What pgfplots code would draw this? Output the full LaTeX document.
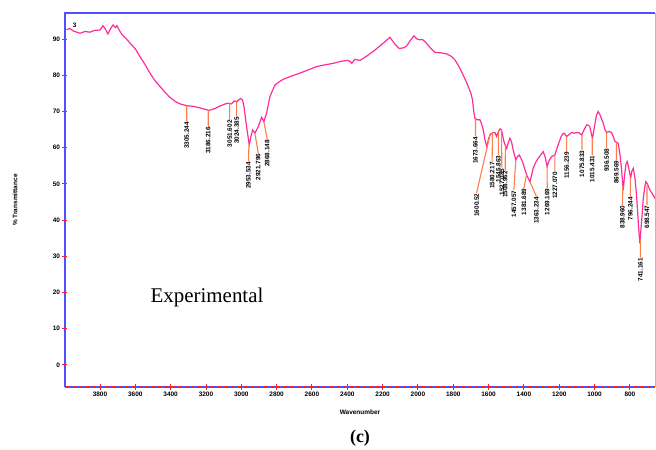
\documentclass[border=0pt]{standalone}
\usepackage{fontspec}
\setmainfont{Liberation Serif}
\newfontfamily\arial{Liberation Sans}
\usepackage{pgfplots}
\pgfplotsset{compat=1.18}
\definecolor{curve}{RGB}{255,45,155}
\definecolor{lead}{RGB}{255,125,75}
\definecolor{axblue}{RGB}{80,80,255}
\definecolor{ticred}{RGB}{255,30,30}
\newcommand{\pk}{\arial\bfseries\fontsize{6.4}{6.4}\selectfont}
\begin{document}
\begin{tikzpicture}
\draw[axblue, line width=2.3bp] (0,-0.5bp) -- (0,375bp);
\draw[axblue, line width=2bp] (0,374bp) -- (590bp,374bp);
\draw[axblue!45, line width=1bp] (590bp,0) -- (590bp,374bp);
\draw[axblue, line width=1.6bp] (0,0) -- (590bp,0);
\draw[ticred, line width=1.1bp, dash pattern=on 3bp off 3.6bp] (1bp,0) -- (590bp,0);
\begin{axis}[
 scale only axis, width=590bp, height=374bp,
 x dir=reverse, xmin=658, xmax=3998, ymin=-6.1, ymax=97.2,
 axis line style={draw=none},
 xtick={800,1000,...,3800}, ytick={0,10,...,90},
 xtick pos=bottom, ytick pos=left,
 tick align=center, major tick length=5bp,
 tick style={ticred, line width=0.9bp},
 ticklabel style={font=\arial\bfseries\fontsize{6.5}{7}\selectfont},
 /pgf/number format/assume math mode=true,
 /pgf/number format/set thousands separator={},
 yticklabel style={xshift=1bp},
 xticklabel style={yshift=1bp},
]
\addplot[curve, line width=1.2bp, no marks] table {
x y
3990 92.6
3970 92.9
3950 92.2
3913 91.6
3885 92.1
3857 91.9
3830 92.4
3800 92.5
3783 93.7
3770 92.8
3755 91.4
3740 92.9
3726 93.9
3712 93.2
3704 93.7
3690 92.4
3675 91.2
3655 90.3
3630 88.9
3600 87.3
3574 85.2
3545 83.0
3517 80.6
3490 78.6
3460 76.9
3430 75.2
3404 73.9
3375 72.8
3347 72.1
3309 71.6
3270 71.4
3234 71.0
3183 70.3
3150 70.8
3121 71.5
3090 72.1
3074 72.3
3055 72.1
3040 72.9
3026 72.7
3004 73.6
2993 73.2
2985 71.4
2970 65.8
2955 60.8
2945 63.2
2936 64.9
2923 64.0
2904 65.8
2885 68.4
2872 67.2
2857 69.5
2838 74.1
2810 77.3
2785 78.2
2762 78.9
2715 79.8
2668 80.6
2620 81.5
2573 82.4
2525 82.9
2479 83.3
2442 83.8
2400 84.1
2385 83.9
2375 83.3
2357 84.4
2328 84.1
2290 85.3
2253 86.6
2205 88.5
2159 90.5
2130 88.6
2106 87.4
2080 87.6
2064 88.1
2040 89.8
2023 90.9
2005 90.0
1989 89.8
1975 89.9
1960 89.3
1930 87.6
1904 86.3
1870 86.2
1838 85.9
1810 85.2
1791 84.3
1770 82.6
1753 81.0
1730 78.6
1715 76.9
1700 75.0
1691 73.2
1684 70.0
1678 68.2
1665 67.7
1649 67.7
1640 66.6
1630 64.9
1620 62.0
1610 60.3
1600 62.5
1592 63.5
1574 64.2
1563 64.1
1555 63.1
1545 64.4
1535 65.2
1527 64.9
1520 63.3
1513 61.7
1505 60.6
1498 59.8
1489 61.3
1479 62.6
1470 61.6
1461 59.4
1446 56.6
1438 57.4
1427 58.0
1416 57.0
1405 55.7
1395 54.0
1385 52.5
1376 51.6
1366 50.6
1357 52.3
1348 54.3
1334 55.9
1319 57.1
1305 58.0
1291 58.9
1280 57.5
1269 54.8
1256 56.6
1244 57.5
1225 58.0
1206 60.8
1190 63.0
1177 64.0
1168 63.8
1158 63.1
1145 63.6
1130 64.2
1115 64.0
1102 64.2
1088 64.1
1073 63.5
1060 64.9
1045 66.3
1035 66.2
1027 65.8
1019 64.0
1012 62.6
1000 66.0
990 68.8
980 70.0
970 69.2
960 67.8
951 66.8
941 65.0
932 64.2
918 64.5
904 64.2
895 63.2
885 61.7
875 61.5
866 61.2
856 58.0
847 53.9
838 48.3
830 52.4
822 55.6
815 56.2
805 54.0
796 51.6
789 53.5
781 54.3
771 51.5
762 46.5
752 39.0
744 33.6
734 39.5
725 45.6
717 48.8
710 50.6
700 49.9
687 48.3
672 47.2
658 46.0
};
\addplot[lead, line width=1.1bp, unbounded coords=jump] table {
x y
3309 71.6
3309 67.2
nan nan
3187 70.3
3187 65.8
nan nan
3066 72.3
3066 67.7
nan nan
3026 72.7
3026 68.6
nan nan
2957 60.8
2959 56.2
nan nan
2923 64.0
2904 58.5
nan nan
2872 67.2
2853 62.2
nan nan
1674 68.0
1674 63.1
nan nan
1590 64.0
1668 47.5
nan nan
1578 64.2
1580 56.1
nan nan
1545 64.4
1545 58.0
nan nan
1527 64.9
1525 54.4
nan nan
1505 60.6
1506 53.7
nan nan
1446 56.6
1457 48.3
nan nan
1385 52.5
1400 48.9
nan nan
1366 50.6
1329 46.5
nan nan
1269 54.8
1268 48.9
nan nan
1225 58.0
1225 53.4
nan nan
1158 63.1
1158 58.9
nan nan
1071 63.5
1071 59.4
nan nan
1013 62.8
1013 58.0
nan nan
932 64.2
932 59.9
nan nan
876 61.4
876 56.6
nan nan
840 49.5
842 44.2
nan nan
797 51.8
797 46.5
nan nan
741 34.5
741 29.6
nan nan
703 49.5
703 44.2
};
\begin{scope}[every node/.style={rotate=90, anchor=east, inner sep=0.4bp, font=\pk}]
\node at (axis cs:3309,67.2) {3305.244};
\node at (axis cs:3187,65.8) {3186.216};
\node at (axis cs:3066,67.7) {3051.602};
\node at (axis cs:3026,68.6) {3024.385};
\node at (axis cs:2959,56.2) {2953.534};
\node at (axis cs:2904,58.5) {2921.796};
\node at (axis cs:2853,62.2) {2868.148};
\node at (axis cs:1674,63.1) {1673.664};
\node at (axis cs:1668,47.5) {1600.52};
\node at (axis cs:1580,56.1) {1580.217};
\node at (axis cs:1545,58.0) {1545.863};
\node at (axis cs:1525,54.4) {1527.085};
\node at (axis cs:1506,53.7) {1508.962};
\node at (axis cs:1457,48.3) {1457.057};
\node at (axis cs:1400,48.9) {1381.689};
\node at (axis cs:1329,46.5) {1363.234};
\node at (axis cs:1268,48.9) {1269.169};
\node at (axis cs:1225,53.4) {1227.070};
\node at (axis cs:1158,58.9) {1156.239};
\node at (axis cs:1071,59.4) {1075.833};
\node at (axis cs:1013,58.0) {1015.431};
\node at (axis cs:932,59.9) {936.508};
\node at (axis cs:876,56.6) {869.569};
\node at (axis cs:842,44.2) {838.960};
\node at (axis cs:797,46.5) {796.244};
\node at (axis cs:741,29.6) {741.161};
\node at (axis cs:703,44.2) {698.547};
\end{scope}
\node[font=\pk, anchor=west, inner sep=0pt] at (axis cs:3955,93.7) {3};
\node[font=\fontsize{21}{24}\selectfont] at (axis cs:3194,18.5) {Experimental};
\end{axis}
\node[rotate=90, font=\arial\bfseries\fontsize{6.5}{7}\selectfont] at (-50bp,187bp) {\% Transmittance};
\node[font=\arial\bfseries\fontsize{6.5}{7}\selectfont] at (295bp,-25bp) {Wavenumber};
\node[font=\bfseries\fontsize{18}{20}\selectfont] at (295bp,-51bp) {(c)};
\pgfresetboundingbox
\path (-65bp,-63bp) rectangle (591bp,387bp);
\end{tikzpicture}
\end{document}
